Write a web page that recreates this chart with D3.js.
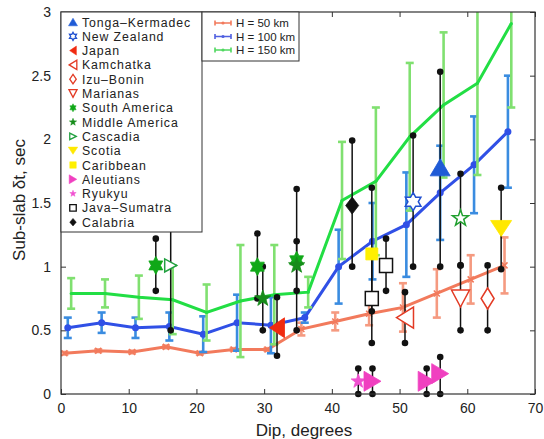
<!DOCTYPE html>
<html>
<head>
<meta charset="utf-8">
<script src="https://cdn.jsdelivr.net/npm/d3@7"></script>
<style>
  body { margin: 0; background: #fff; }
  text { font-family: "Liberation Sans", Arial, sans-serif; }
</style>
</head>
<body>
<div id="chart"></div>
<script>
// model curves (H = slab thickness)
var dip50 = [0.5, 5.5, 10.5, 15.5, 20.5, 25.5, 30.5, 35.5, 40.5, 45.5, 50.5, 55.5, 60.5, 65.5];
var dt50 = [0.32, 0.34, 0.33, 0.37, 0.32, 0.35, 0.35, 0.51, 0.57, 0.63, 0.68, 0.79, 0.90, 1.01];
var err50 = [0.01, 0.01, 0.01, 0.01, 0.01, 0.01, 0.01, 0.05, 0.07, 0.09, 0.19, 0.19, 0.19, 0.22];

var dip100 = [1, 6, 11, 16, 21, 26, 31, 36, 41, 46, 51, 56, 61, 66];
var dt100 = [0.52, 0.56, 0.52, 0.53, 0.47, 0.56, 0.54, 0.60, 1.00, 1.20, 1.33, 1.58, 1.80, 2.06];
var err100 = [0.08, 0.08, 0.08, 0.11, 0.14, 0.22, 0.22, 0.04, 0.29, 0.30, 0.41, 0.37, 0.38, 0.44];

var dip150 = [1.5, 6.5, 11.5, 16.5, 21.5, 26.5, 31.5, 36.5, 41.5, 46.5, 51.5, 56.5, 61.5, 66.5];
var dt150 = [0.79, 0.79, 0.76, 0.74, 0.64, 0.73, 0.78, 0.80, 1.52, 1.67, 2.02, 2.27, 2.44, 2.91];
var err150 = [0.12, 0.11, 0.17, 0.27, 0.22, 0.44, 0.39, 0.12, 0.46, 0.58, 0.58, 0.57, 0.72, 0.66];

// observations per subduction zone
var obsZone = ["South America", "Cascadia", "South America", "Middle America", "Japan",
  "South America", "Middle America", "Calabria", "Ryukyu", "Caribbean", "Java-Sumatra",
  "Aleutians", "Java-Sumatra", "Kamchatka", "New Zealand", "Aleutians", "Tonga-Kermadec",
  "Aleutians", "Middle America open", "Marianas", "Izu-Bonin", "Scotia"];
var obsDip = [14.0, 16.2, 29.0, 29.8, 31.9, 34.8, 34.8, 43.0, 43.9, 45.9, 45.9,
  46.0, 48.0, 50.8, 52.0, 54.0, 56.0, 56.0, 59.0, 59.0, 63.0, 65.0];
var obsDt = [1.01, 1.01, 1.00, 0.75, 0.52, 1.05, 1.01, 1.48, 0.10, 1.10, 0.75,
  0.10, 1.01, 0.60, 1.51, 0.10, 1.78, 0.16, 1.38, 0.75, 0.75, 1.30];
var obsLo = [0.81, 0.50, 0.75, 0.50, 0.30, 0.50, 0.81, 1.00, 0.00, 0.65, 0.40,
  0.00, 0.81, 0.40, 1.00, 0.00, 1.00, 0.00, 1.01, 0.50, 0.50, 0.98];
var obsHi = [1.22, 1.52, 1.26, 1.00, 0.76, 1.61, 1.20, 1.99, 0.20, 1.62, 1.10,
  0.20, 1.22, 0.80, 2.03, 0.20, 2.53, 0.29, 1.73, 1.01, 1.01, 1.62];

var legendZones = ["Tonga-Kermadec", "New Zealand", "Japan", "Kamchatka", "Izu-Bonin",
  "Marianas", "South America", "Middle America", "Cascadia", "Scotia", "Caribbean",
  "Aleutians", "Ryukyu", "Java-Sumatra", "Calabria"];
var legendNames = ["Tonga\u2013Kermadec", "New Zealand", "Japan", "Kamchatka", "Izu\u2013Bonin",
  "Marianas", "South America", "Middle America", "Cascadia", "Scotia", "Caribbean",
  "Aleutians", "Ryukyu", "Java\u2013Sumatra", "Calabria"];
var modelNames = ["H = 50 km", "H = 100 km", "H = 150 km"];

var xTicks = [0, 10, 20, 30, 40, 50, 60, 70];
var yTicks = [0, 0.5, 1, 1.5, 2, 2.5, 3];

// marker style per zone: shape, width, height, color, filled
var zoneStyle = {
  "Tonga-Kermadec": { shape: "up", w: 20, h: 17, color: "#1f5bd6", fill: true },
  "New Zealand": { shape: "hex", w: 18, h: 18, color: "#2050d0", fill: false },
  "Japan": { shape: "left", w: 15, h: 20, color: "#f02a10", fill: true },
  "Kamchatka": { shape: "left", w: 17, h: 21, color: "#e33a24", fill: false },
  "Izu-Bonin": { shape: "diamond", w: 13, h: 21, color: "#e33a24", fill: false },
  "Marianas": { shape: "down", w: 18, h: 17, color: "#e33a24", fill: false },
  "South America": { shape: "hex", w: 16, h: 18, color: "#10a818", fill: true },
  "Middle America": { shape: "star", w: 17, h: 17, color: "#168c1a", fill: true },
  "Middle America open": { shape: "star", w: 17, h: 17, color: "#22a030", fill: false },
  "Cascadia": { shape: "right", w: 12, h: 13, color: "#22a040", fill: false },
  "Scotia": { shape: "down", w: 21, h: 16, color: "#ffe800", fill: true },
  "Caribbean": { shape: "square", w: 12, h: 12, color: "#fff000", fill: true },
  "Aleutians": { shape: "right", w: 17, h: 20, color: "#f040c0", fill: true },
  "Ryukyu": { shape: "star", w: 15, h: 15, color: "#f050d0", fill: true },
  "Java-Sumatra": { shape: "square", w: 13, h: 14, color: "#111", fill: false },
  "Calabria": { shape: "diamond", w: 13, h: 17, color: "#111", fill: true }
};

var svgWidth = 544;
var svgHeight = 439;
var margin = { top: 12, right: 9, bottom: 45, left: 61 };
var width = svgWidth - margin.left - margin.right;
var height = svgHeight - margin.top - margin.bottom;

var svg = d3.select("#chart").append("svg")
  .attr("width", svgWidth)
  .attr("height", svgHeight);

var chartGroup = svg.append("g")
  .attr("transform", `translate(${margin.left}, ${margin.top})`);

var x = d3.scaleLinear().domain([0, 70]).range([0, width]);
var y = d3.scaleLinear().domain([0, 3]).range([height, 0]);

svg.append("defs").append("clipPath").attr("id", "plotclip")
  .append("rect").attr("width", width).attr("height", height);

// build marker path centred on 0,0
function markerPath(shape, w, h) {
  var p = d3.path();
  var a = w / 2, b = h / 2;
  var pts;
  if (shape === "up") pts = [[0, -b], [a, b], [-a, b]];
  else if (shape === "down") pts = [[0, b], [a, -b], [-a, -b]];
  else if (shape === "left") pts = [[-a, 0], [a, -b], [a, b]];
  else if (shape === "right") pts = [[a, 0], [-a, -b], [-a, b]];
  else if (shape === "diamond") pts = [[0, -b], [a, 0], [0, b], [-a, 0]];
  else if (shape === "square") pts = [[-a, -b], [a, -b], [a, b], [-a, b]];
  else {
    var n = shape === "hex" ? 6 : 5;
    var inner = shape === "hex" ? 0.577 : 0.4;
    pts = [];
    for (var i = 0; i < n * 2; i++) {
      var ang = -Math.PI / 2 + i * Math.PI / n;
      var r = i % 2 === 0 ? 1 : inner;
      pts.push([Math.cos(ang) * a * r, Math.sin(ang) * b * r]);
    }
  }
  p.moveTo(pts[0][0], pts[0][1]);
  pts.slice(1).forEach(function(q) { p.lineTo(q[0], q[1]); });
  p.closePath();
  return p.toString();
}

// axes with inward ticks on all sides
chartGroup.append("g")
  .attr("transform", `translate(0, ${height})`)
  .call(d3.axisBottom(x).tickValues(xTicks).tickSize(-5).tickPadding(9).tickFormat(d3.format("d")))
  .call(g => g.select(".domain").remove())
  .call(g => g.selectAll("text").attr("font-size", "14px").attr("fill", "#222"));
chartGroup.append("g")
  .call(d3.axisTop(x).tickValues(xTicks).tickSize(-5).tickFormat(""))
  .call(g => g.select(".domain").remove());
chartGroup.append("g")
  .call(d3.axisLeft(y).tickValues(yTicks).tickSize(-5).tickPadding(10).tickFormat(d => String(d)))
  .call(g => g.select(".domain").remove())
  .call(g => g.selectAll("text").attr("font-size", "14px").attr("fill", "#222"));
chartGroup.append("g")
  .attr("transform", `translate(${width}, 0)`)
  .call(d3.axisRight(y).tickValues(yTicks).tickSize(-5).tickFormat(""))
  .call(g => g.select(".domain").remove());
chartGroup.selectAll(".tick line").attr("stroke", "#333");

// model curves with error bars
function drawModel(dips, vals, errs, lineColor, barColor, dotKind) {
  var g = chartGroup.append("g").attr("clip-path", "url(#plotclip)");
  var bars = g.selectAll(null).data(dips.map((d, i) => [d, vals[i], errs[i]])).enter();
  bars.append("line")
    .attr("x1", d => x(d[0])).attr("x2", d => x(d[0]))
    .attr("y1", d => y(d[1] - d[2])).attr("y2", d => y(d[1] + d[2]))
    .attr("stroke", barColor).attr("stroke-width", 2.6);
  [-1, 1].forEach(function(s) {
    bars.append("line")
      .attr("x1", d => x(d[0]) - 4).attr("x2", d => x(d[0]) + 4)
      .attr("y1", d => y(d[1] + s * d[2])).attr("y2", d => y(d[1] + s * d[2]))
      .attr("stroke", barColor).attr("stroke-width", 2.6);
  });
  var line = d3.line().x((d, i) => x(dips[i])).y(d => y(d));
  g.append("path").datum(vals)
    .attr("d", line)
    .attr("fill", "none").attr("stroke", lineColor).attr("stroke-width", 3);
  if (dotKind === "x") {
    g.selectAll(null).data(vals).enter().append("path")
      .attr("d", (d, i) => `M${x(dips[i]) - 3},${y(d) - 3}L${x(dips[i]) + 3},${y(d) + 3}M${x(dips[i]) - 3},${y(d) + 3}L${x(dips[i]) + 3},${y(d) - 3}`)
      .attr("stroke", lineColor).attr("stroke-width", 1.5);
  } else {
    g.selectAll(null).data(vals).enter().append("circle")
      .attr("cx", (d, i) => x(dips[i])).attr("cy", d => y(d))
      .attr("r", dotKind).attr("fill", lineColor);
  }
}

drawModel(dip50, dt50, err50, "#f27a5c", "#f59a80", "x");
drawModel(dip100, dt100, err100, "#3050e6", "#3a8ce0", 3.5);
drawModel(dip150, dt150, err150, "#22de44", "#80e070", 1.5);

// observation bars (black, dot ends)
var obs = obsZone.map((z, i) => ({ zone: z, dip: obsDip[i], dt: obsDt[i], lo: obsLo[i], hi: obsHi[i] }));
var obsGroup = chartGroup.append("g");
obsGroup.selectAll("line").data(obs).enter().append("line")
  .attr("x1", d => x(d.dip)).attr("x2", d => x(d.dip))
  .attr("y1", d => y(d.lo)).attr("y2", d => y(d.hi))
  .attr("stroke", "#111").attr("stroke-width", 1.5);
obsGroup.selectAll(null).data(obs).enter().append("circle")
  .attr("cx", d => x(d.dip)).attr("cy", d => y(d.lo)).attr("r", 3.3).attr("fill", "#111");
obsGroup.selectAll(null).data(obs).enter().append("circle")
  .attr("cx", d => x(d.dip)).attr("cy", d => y(d.hi)).attr("r", 3.3).attr("fill", "#111");

// zone markers
chartGroup.append("g").selectAll("path").data(obs).enter().append("path")
  .attr("transform", d => `translate(${x(d.dip)}, ${y(d.dt)})`)
  .attr("d", d => { var s = zoneStyle[d.zone]; return markerPath(s.shape, s.w, s.h); })
  .attr("fill", d => zoneStyle[d.zone].fill ? zoneStyle[d.zone].color : "#fff")
  .attr("stroke", d => zoneStyle[d.zone].color)
  .attr("stroke-width", d => zoneStyle[d.zone].fill ? 0.8 : 1.5);

// frame
chartGroup.append("rect")
  .attr("width", width).attr("height", height)
  .attr("fill", "none").attr("stroke", "#333").attr("stroke-width", 1.2);

// zone legend
var legend1 = chartGroup.append("g");
legend1.append("rect")
  .attr("x", 0).attr("y", 0).attr("width", 141).attr("height", 220)
  .attr("fill", "#fff").attr("stroke", "#333").attr("stroke-width", 1);
legendZones.forEach(function(z, i) {
  var s = zoneStyle[z];
  var ly = 10 + i * 14.3;
  var k = 0.45;
  legend1.append("path")
    .attr("transform", `translate(12, ${ly})`)
    .attr("d", markerPath(s.shape, Math.max(s.w * k, 6.5), Math.max(s.h * k, 6.5)))
    .attr("fill", s.fill ? s.color : "#fff")
    .attr("stroke", s.color).attr("stroke-width", s.fill ? 0.5 : 1.3);
  legend1.append("text")
    .attr("x", 21).attr("y", ly + 4.5)
    .attr("font-size", "12.3px").attr("letter-spacing", "0.9px").attr("fill", "#222")
    .text(legendNames[i]);
});

// model legend
var legend2 = chartGroup.append("g").attr("transform", "translate(141, 0)");
legend2.append("rect")
  .attr("width", 97).attr("height", 49)
  .attr("fill", "#fff").attr("stroke", "#333").attr("stroke-width", 1);
var modelColors = ["#f27a5c", "#5060e0", "#50d860"];
modelNames.forEach(function(name, i) {
  var ly = 11 + i * 13.5;
  var c = modelColors[i];
  legend2.append("path")
    .attr("d", `M13,${ly}H29M13,${ly - 2.5}V${ly + 2.5}M29,${ly - 2.5}V${ly + 2.5}`)
    .attr("stroke", c).attr("stroke-width", 1.6).attr("fill", "none");
  legend2.append("circle").attr("cx", 21).attr("cy", ly).attr("r", 1.6).attr("fill", c);
  legend2.append("text")
    .attr("x", 34).attr("y", ly + 4)
    .attr("font-size", "11.5px").attr("fill", "#222")
    .text(name);
});

// axis titles
svg.append("text")
  .attr("x", 304).attr("y", 436)
  .attr("text-anchor", "middle").attr("font-size", "17px").attr("fill", "#222")
  .text("Dip, degrees");
svg.append("text")
  .attr("transform", "translate(25, 200) rotate(-90)")
  .attr("text-anchor", "middle").attr("font-size", "17px").attr("fill", "#222")
  .text("Sub-slab \u03b4t, sec");
</script>
</body>
</html>
